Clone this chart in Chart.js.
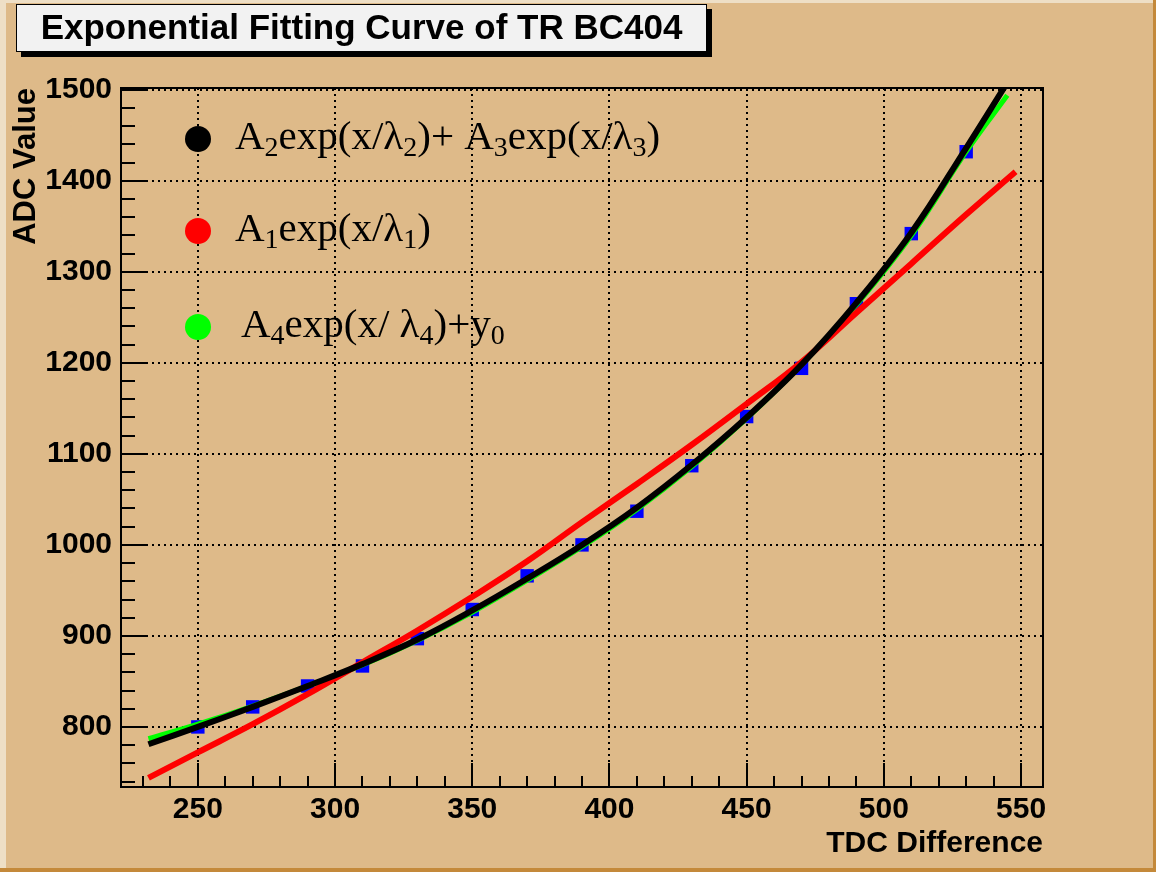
<!DOCTYPE html>
<html>
<head>
<meta charset="utf-8">
<title>Exponential Fitting Curve of TR BC404</title>
<script src="https://cdn.jsdelivr.net/npm/chart.js@4/dist/chart.umd.min.js"></script>
<style>
	html, body { margin: 0; padding: 0; background: #deba89; }
</style>
</head>
<body>
<canvas id="fitChart" width="1156" height="872"></canvas>
<script>
var chartTitle = 'Exponential Fitting Curve of TR BC404';
var xAxisTitle = 'TDC Difference';
var yAxisTitle = 'ADC Value';

// measured points (blue squares)
var tdcValues = [250, 270, 290, 310, 330, 350, 370, 390, 410, 430, 450, 470, 490, 510, 530];
var adcValues = [800, 822, 845, 867, 897, 929, 966, 1000, 1037, 1087, 1141, 1194, 1265, 1342, 1432];

// fitted curves
var fitX = [232, 250, 270, 290, 310, 330, 350, 370, 390, 410, 430, 450, 470, 490, 510, 530, 545];
var fitDoubleExp = [781, 800, 822, 845, 869, 896, 928, 963, 1000, 1041, 1088, 1140, 1198, 1266, 1343, 1436, 1508];
var fitExpOffset = [787, 803, 823, 845, 868, 895, 926, 961, 998, 1039, 1086, 1139, 1198, 1264, 1340, 1432, 1494];
var singleX = [232, 250, 270, 290, 310, 330, 350, 370, 390, 410, 430, 450, 470, 490, 510, 530, 548];
var fitSingleExp = [744, 772, 803, 836, 871, 906, 943, 982, 1025, 1067, 1110, 1155, 1201, 1255, 1309, 1363, 1410];

var xTicks = [250, 300, 350, 400, 450, 500, 550];
var yTicks = [800, 900, 1000, 1100, 1200, 1300, 1400, 1500];

var legendLabels = ['A_{2}exp(x/λ_{2})+ A_{3}exp(x/λ_{3})', 'A_{1}exp(x/λ_{1})', 'A_{4}exp(x/ λ_{4})+y_{0}'];

var sansBold = '"Liberation Sans", Arial, sans-serif';
var serif = '"Liberation Serif", "Times New Roman", serif';

function pairs(xs, ys) {
	return xs.map(function (x, i) { return {x: x, y: ys[i]}; });
}

// text with _{..} subscripts
function drawRich(ctx, str, x, y) {
	var parts = str.split(/_\{([^}]*)\}/);
	parts.forEach(function (p, i) {
		if (!p) return;
		var sub = i % 2 === 1;
		ctx.font = (sub ? '28px ' : '41px ') + serif;
		ctx.fillText(p, x, sub ? y + 7 : y);
		x += ctx.measureText(p).width;
	});
}

var rootStyle = {
	id: 'rootStyle',
	beforeDraw: function (chart) {
		var ctx = chart.ctx, w = chart.width, h = chart.height;
		ctx.save();
		ctx.fillStyle = '#deba89';
		ctx.fillRect(0, 0, w, h);
		ctx.fillStyle = '#eedfc6';
		ctx.fillRect(0, 0, w, 3);
		ctx.fillRect(0, 0, 6, h);
		ctx.fillStyle = '#c4893a';
		ctx.fillRect(w - 3, 0, 3, h);
		ctx.fillRect(0, h - 4, w, 4);

		// title pave with shadow
		ctx.fillStyle = '#000';
		ctx.fillRect(21, 9, 691, 48);
		ctx.fillStyle = '#f2f2f2';
		ctx.fillRect(16, 4, 691, 48);
		ctx.strokeStyle = '#000';
		ctx.lineWidth = 1;
		ctx.strokeRect(16.5, 4.5, 690, 47);
		ctx.fillStyle = '#000';
		ctx.font = 'bold 35px ' + sansBold;
		ctx.textAlign = 'center';
		ctx.textBaseline = 'middle';
		ctx.fillText(chartTitle, 361.5, 29);
		ctx.restore();
	},
	afterDraw: function (chart) {
		var ctx = chart.ctx, a = chart.chartArea;
		var xs = chart.scales.x, ys = chart.scales.y;
		ctx.save();
		ctx.strokeStyle = '#000';
		ctx.lineWidth = 2;
		ctx.beginPath();
		var v, p;
		for (v = 230; v <= 550; v += 10) {
			p = Math.round(xs.getPixelForValue(v));
			ctx.moveTo(p, a.bottom);
			ctx.lineTo(p, a.bottom - (v % 50 === 0 ? 24 : 11));
		}
		for (v = 740; v <= 1500; v += 20) {
			p = Math.round(ys.getPixelForValue(v));
			ctx.moveTo(a.left, p);
			ctx.lineTo(a.left + (v % 100 === 0 ? 27 : 14), p);
		}
		ctx.stroke();
		ctx.strokeRect(a.left, a.top, a.right - a.left, a.bottom - a.top);

		// legend
		var rowY = [51, 143, 239];
		var textX = [114, 114, 120];
		ctx.textAlign = 'left';
		ctx.textBaseline = 'alphabetic';
		legendLabels.forEach(function (label, i) {
			var cy = a.top + rowY[i];
			ctx.fillStyle = chart.data.datasets[i].borderColor;
			ctx.beginPath();
			ctx.arc(a.left + 77, cy, 13, 0, Math.PI * 2);
			ctx.fill();
			ctx.fillStyle = '#000';
			drawRich(ctx, label, a.left + textX[i], cy + 10);
		});
		ctx.restore();
	}
};

function loadFitChart () {
	var tickFont = {family: sansBold, size: 30, weight: 'bold'};
	var fitData = {
		datasets: [{
			label: 'A2exp(x/l2)+A3exp(x/l3)',
			data: pairs(fitX, fitDoubleExp),
			showLine: true,
			borderColor: '#000000',
			borderWidth: 6,
			pointRadius: 0,
			tension: 0.4,
			order: 1
		}, {
			label: 'A1exp(x/l1)',
			data: pairs(singleX, fitSingleExp),
			showLine: true,
			borderColor: '#ff0000',
			borderWidth: 6,
			pointRadius: 0,
			tension: 0.4,
			order: 2
		}, {
			label: 'A4exp(x/l4)+y0',
			data: pairs(fitX, fitExpOffset),
			showLine: true,
			borderColor: '#00ff00',
			borderWidth: 5,
			pointRadius: 0,
			tension: 0.4,
			order: 3
		}, {
			label: 'data',
			data: pairs(tdcValues, adcValues),
			showLine: false,
			pointStyle: 'rect',
			pointRadius: 9.5,
			borderWidth: 0,
			backgroundColor: '#0000ff',
			borderColor: '#0000ff',
			order: 4
		}]
	};

	var fitOptions = {
		responsive: false,
		devicePixelRatio: 1,
		animation: false,
		layout: {
			padding: {left: 0, top: 88, right: 113, bottom: 0}
		},
		plugins: {
			legend: { display: false },
			tooltip: { enabled: false }
		},
		scales: {
			x: {
				type: 'linear',
				min: 222,
				max: 558,
				afterBuildTicks: function (s) { s.ticks = xTicks.map(function (v) { return {value: v}; }); },
				afterFit: function (s) { s.height = 85; },
				grid: { color: '#000', lineWidth: 2, drawTicks: false },
				border: { display: true, color: '#000', width: 2, dash: [2, 4] },
				ticks: {
					color: '#000',
					padding: 5,
					maxRotation: 0,
					font: tickFont,
					callback: function (v) { return String(v); }
				},
				title: {
					display: true,
					text: xAxisTitle,
					align: 'end',
					color: '#000',
					font: {family: sansBold, size: 30, weight: 'bold'},
					padding: {top: 0, bottom: 10}
				}
			},
			y: {
				type: 'linear',
				min: 734,
				max: 1502,
				afterBuildTicks: function (s) { s.ticks = yTicks.map(function (v) { return {value: v}; }); },
				afterFit: function (s) { s.width = 121; },
				grid: { color: '#000', lineWidth: 2, drawTicks: false },
				border: { display: true, color: '#000', width: 2, dash: [2, 4] },
				ticks: {
					color: '#000',
					padding: 9,
					font: tickFont,
					callback: function (v) { return String(v); }
				},
				title: {
					display: true,
					text: yAxisTitle,
					align: 'end',
					color: '#000',
					font: {family: sansBold, size: 31, weight: 'bold'},
					padding: {top: 8, bottom: 0}
				}
			}
		}
	};

	var ctx = document.getElementById('fitChart');
	var fitChart = new Chart(ctx, {
		type: 'scatter',
		data: fitData,
		options: fitOptions,
		plugins: [rootStyle]
	});
}
window.addEventListener('load', function () { loadFitChart(); });
</script>
</body>
</html>
